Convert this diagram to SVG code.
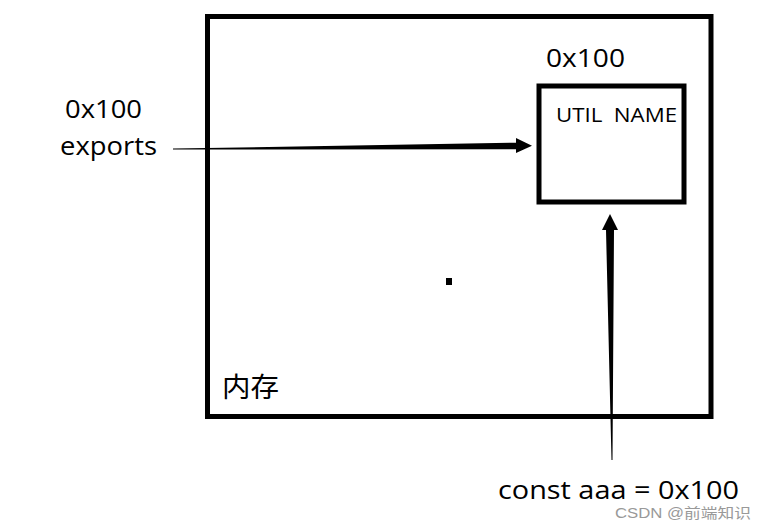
<svg xmlns="http://www.w3.org/2000/svg" width="767" height="529" viewBox="0 0 767 529">
<style>
.t{font-family:"Open Sans","Noto Sans CJK SC",sans-serif;fill:#000}
.box{fill:none;stroke:#000;stroke-width:5}
</style>
<rect width="767" height="529" fill="#fff"/>
<g id="memory">
<rect class="box" x="207.5" y="16.5" width="503.5" height="400"/>
<text class="t" x="222" y="397" font-size="27" textLength="57" lengthAdjust="spacingAndGlyphs">内存</text>
<rect x="446" y="278" width="6" height="7" fill="#000"/>
</g>
<g id="util">
<rect class="box" x="539" y="86" width="145" height="116"/>
<text class="t" x="546" y="67" font-size="25" textLength="79" lengthAdjust="spacingAndGlyphs">0x100</text>
<text class="t" x="556" y="122" font-size="20" textLength="121" lengthAdjust="spacingAndGlyphs">UTIL&#160; NAME</text>
</g>
<g id="exports">
<text class="t" x="65" y="118" font-size="25" textLength="77" lengthAdjust="spacingAndGlyphs">0x100</text>
<text class="t" x="60" y="155" font-size="25" textLength="97" lengthAdjust="spacingAndGlyphs">exports</text>
</g>
<g id="aaa">
<text class="t" x="498" y="499" font-size="25" textLength="241" lengthAdjust="spacingAndGlyphs">const aaa = 0x100</text>
</g>
<g id="connectors">
<polygon points="173,148.6 173,149.4 516,149.3 516,153 532,145.7 516,138 516,142.7" fill="#000"/>
<polygon points="611.5,460 612.5,460 614,230 618,230 610,214 602,230 606,230" fill="#000"/>
</g>
<text x="615" y="518" font-family="'Liberation Sans','Noto Sans CJK SC',sans-serif" font-size="14" fill="#999" textLength="136" lengthAdjust="spacingAndGlyphs">CSDN @前端知识</text>
</svg>
